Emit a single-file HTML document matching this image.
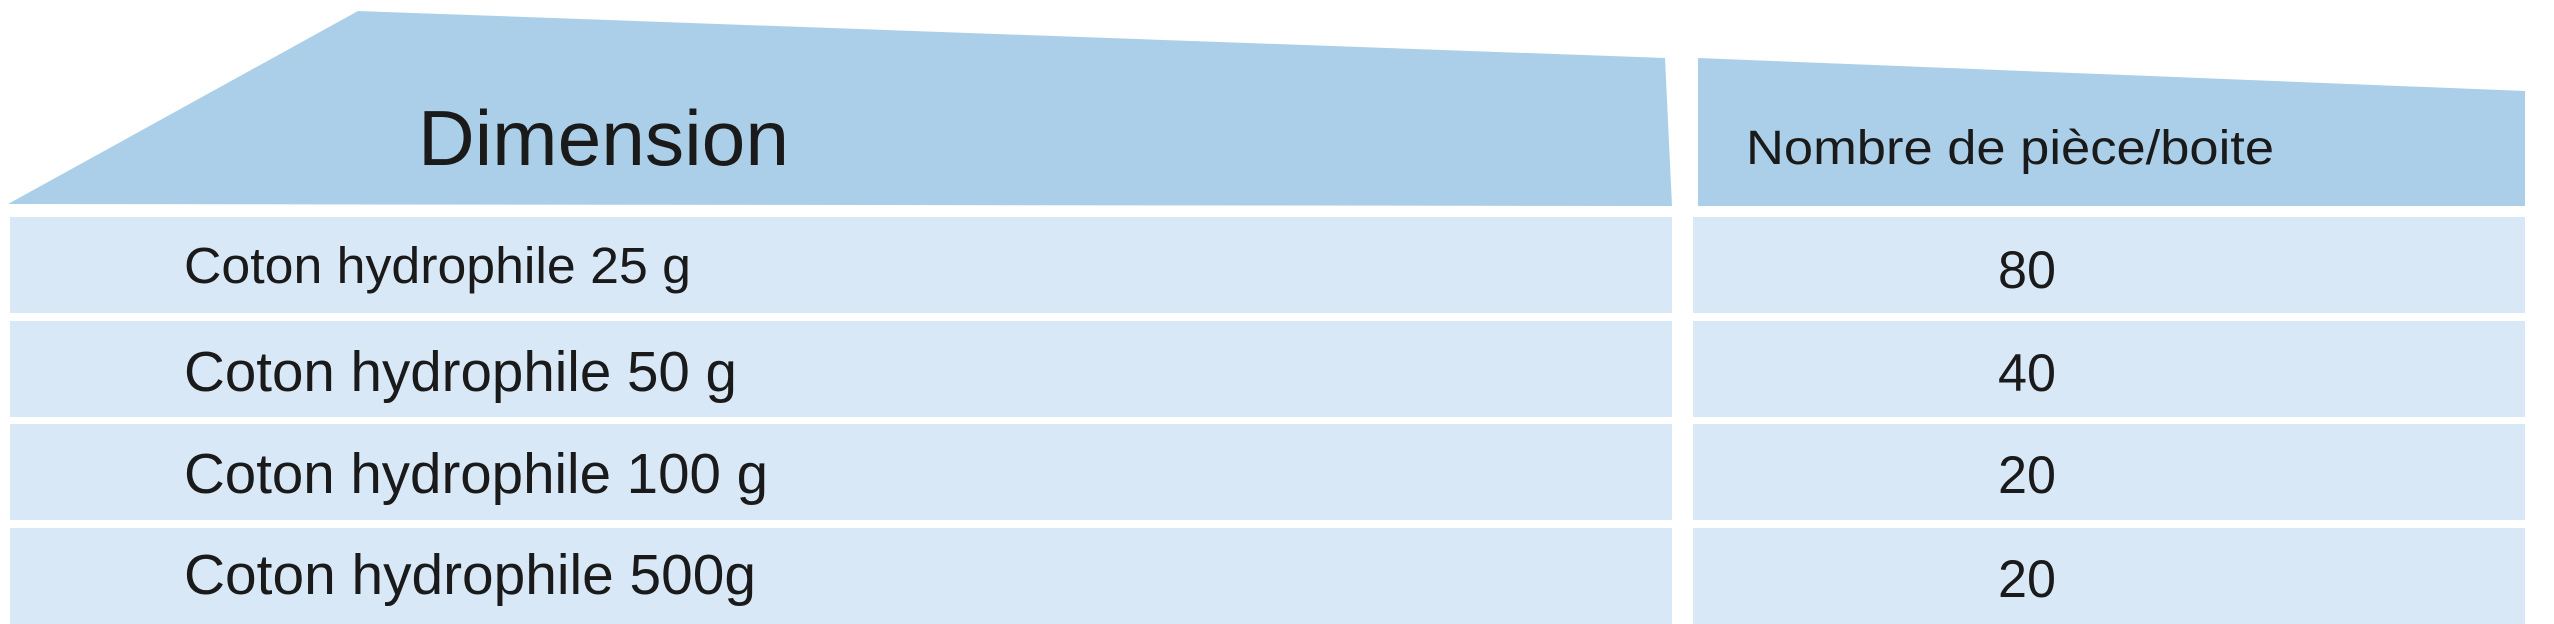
<!DOCTYPE html>
<html><head><meta charset="utf-8"><style>
html,body{margin:0;padding:0;background:#fff;}
svg{display:block;}
text{font-family:"Liberation Sans",sans-serif;fill:#1a1a1a;}
</style></head><body>
<svg width="2554" height="624" viewBox="0 0 2554 624" xmlns="http://www.w3.org/2000/svg">
<polygon points="358,11 1665,58 1672,206 8,204" fill="#abcfe8"/>
<polygon points="1698,58 2525,91 2525,206 1698,206" fill="#abcfe8"/>
<g fill="#d9e8f7">
<rect x="10" y="217" width="1662" height="96"/>
<rect x="10" y="321" width="1662" height="96"/>
<rect x="10" y="424" width="1662" height="96"/>
<rect x="10" y="528" width="1662" height="96"/>
<rect x="1693" y="217" width="832" height="96"/>
<rect x="1693" y="321" width="832" height="96"/>
<rect x="1693" y="424" width="832" height="96"/>
<rect x="1693" y="528" width="832" height="96"/>
</g>
<text x="418" y="165" font-size="78" textLength="371" lengthAdjust="spacingAndGlyphs">Dimension</text>
<text x="1746" y="164" font-size="48" textLength="528" lengthAdjust="spacingAndGlyphs">Nombre de pièce/boite</text>
<text x="184" y="283" font-size="51" textLength="507" lengthAdjust="spacingAndGlyphs">Coton hydrophile 25 g</text>
<text x="184" y="391" font-size="57" textLength="553" lengthAdjust="spacingAndGlyphs">Coton hydrophile 50 g</text>
<text x="184" y="493" font-size="57" textLength="584" lengthAdjust="spacingAndGlyphs">Coton hydrophile 100 g</text>
<text x="184" y="594" font-size="57" textLength="572" lengthAdjust="spacingAndGlyphs">Coton hydrophile 500g</text>
<text x="1998" y="288" font-size="53" textLength="58" lengthAdjust="spacingAndGlyphs">80</text>
<text x="1998" y="391" font-size="53" textLength="58" lengthAdjust="spacingAndGlyphs">40</text>
<text x="1998" y="493" font-size="53" textLength="58" lengthAdjust="spacingAndGlyphs">20</text>
<text x="1998" y="597" font-size="53" textLength="58" lengthAdjust="spacingAndGlyphs">20</text>
</svg>
</body></html>
